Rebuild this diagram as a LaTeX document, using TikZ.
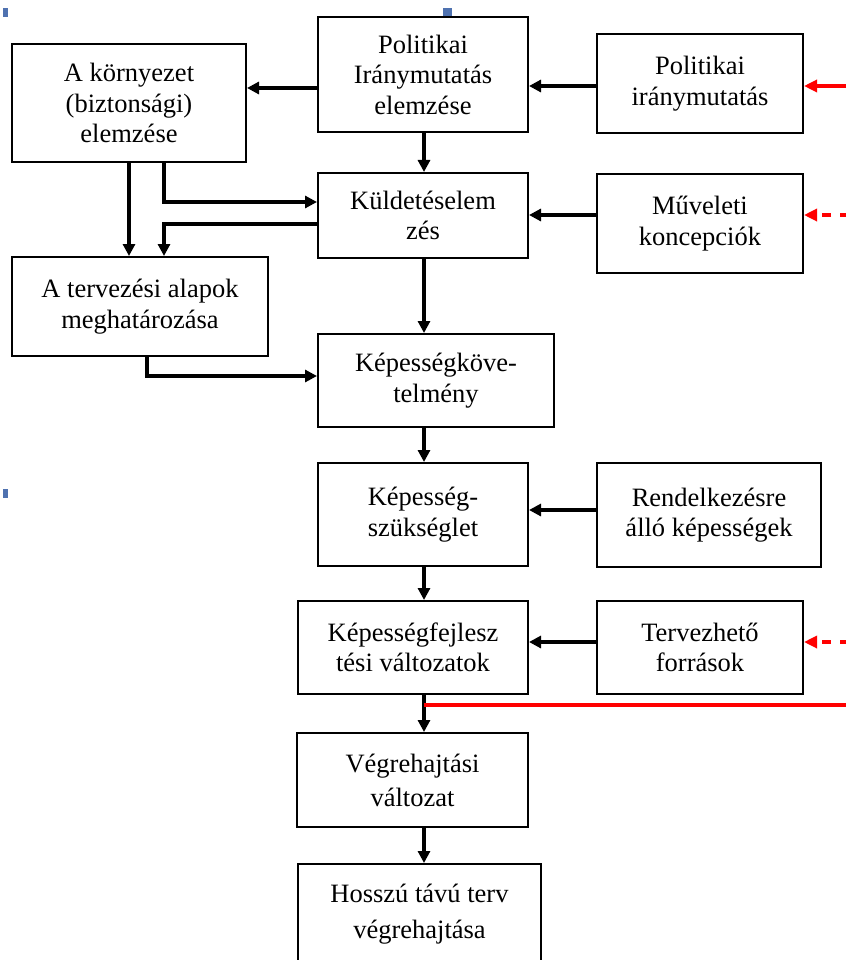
\documentclass[tikz,border=0pt]{standalone}
\usepackage{fontspec}
\setmainfont{Liberation Serif}
\usetikzlibrary{arrows.meta}
\definecolor{markblue}{HTML}{4F72B0}
\tikzset{
  box/.style={draw=black, line width=2pt, fill=white, align=center, inner sep=0pt,
    font=\fontsize{26.5}{30.5}\selectfont},
  arr/.style={line width=3.2pt, -{Triangle[length=12pt,width=12pt]}},
  redarr/.style={draw=red, line width=3.2pt, -{Triangle[length=13pt,width=12pt]}},
  reddash/.style={redarr, dash pattern=on 9pt off 9pt, dash phase=3pt},
  bluemark/.style={fill=markblue, draw=none}
}
\begin{document}
\begin{tikzpicture}[x=1pt, y=-1pt]
\useasboundingbox (0,0) rectangle (846,960);
\clip (0,0) rectangle (846,960);
\fill[white] (0,0) rectangle (846,960);
% small blue marks
\fill[bluemark] (3,8) rectangle (8,17);
\fill[bluemark] (443,8) rectangle (452,17);
\fill[bluemark] (3,489) rectangle (8,498);
% boxes
\node[box, minimum width=234pt, minimum height=118pt] (env) at (129,103) {A környezet\\(biztonsági)\\elemzése};
\node[box, minimum width=210pt, minimum height=115pt] (pola) at (423,74.5) {Politikai\\Iránymutatás\\elemzése};
\node[box, minimum width=206pt, minimum height=99pt] (polg) at (700,83.5) {Politikai\\iránymutatás};
\node[box, minimum width=210pt, minimum height=85pt] (kuld) at (423,215.5) {Küldetéselem\\zés};
\node[box, minimum width=206pt, minimum height=99pt] (muv) at (700,223.5) {Műveleti\\koncepciók};
\node[box, minimum width=256pt, minimum height=99pt] (terv) at (140,306.5) {A tervezési alapok\\meghatározása};
\node[box, minimum width=236pt, minimum height=93pt] (kovet) at (436,380.5) {Képességköve-\\telmény};
\node[box, minimum width=210pt, minimum height=103pt] (szuks) at (423,514.5) {Képesség-\\szükséglet};
\node[box, minimum width=224pt, minimum height=104pt] (rend) at (709,515) {Rendelkezésre\\álló képességek};
\node[box, minimum width=230pt, minimum height=93pt] (fejl) at (413,647.5) {Képességfejlesz\\tési változatok};
\node[box, minimum width=206pt, minimum height=93pt] (forr) at (700,647.5) {Tervezhető\\források};
\node[box, minimum width=231pt, minimum height=94pt, font=\fontsize{26.5}{34}\selectfont] (vegr) at (412.5,780) {Végrehajtási\\változat};
\node[box, minimum width=243pt, minimum height=100pt, font=\fontsize{26.5}{36}\selectfont] (hossz) at (419.5,914) {Hosszú távú terv\\végrehajtása};
% helper coordinates
\coordinate (h1) at (0,86);
\coordinate (h1b) at (0,88);
\coordinate (h2) at (0,202);
\coordinate (h3) at (0,224);
\coordinate (h4) at (0,215);
\coordinate (h5) at (0,376);
\coordinate (h6) at (0,510);
\coordinate (h7) at (0,642);
\coordinate (h8) at (0,705);
\coordinate (v0) at (129,0);
\coordinate (v1) at (164,0);
\coordinate (v2) at (147,0);
\coordinate (vc) at (424,0);
\coordinate (re1) at (846,86);
\coordinate (re2) at (846,215);
\coordinate (re3) at (846,642);
\coordinate (re4) at (846,705);
% black connectors
\draw[arr] (polg.west |- h1) -- (pola.east |- h1);
\draw[arr] (pola.west |- h1b) -- (env.east |- h1b);
\draw[arr] (vc |- pola.south) -- (vc |- kuld.north);
\draw[arr] (v0 |- env.south) -- (v0 |- terv.north);
\draw[arr] (v1 |- env.south) |- (kuld.west |- h2);
\draw[arr] (kuld.west |- h3) -| (v1 |- terv.north);
\draw[arr] (muv.west |- h4) -- (kuld.east |- h4);
\draw[arr] (vc |- kuld.south) -- (vc |- kovet.north);
\draw[arr] (v2 |- terv.south) |- (kovet.west |- h5);
\draw[arr] (vc |- kovet.south) -- (vc |- szuks.north);
\draw[arr] (rend.west |- h6) -- (szuks.east |- h6);
\draw[arr] (vc |- szuks.south) -- (vc |- fejl.north);
\draw[arr] (forr.west |- h7) -- (fejl.east |- h7);
\draw[arr] (vc |- fejl.south) -- (vc |- vegr.north);
\draw[arr] (vc |- vegr.south) -- (vc |- hossz.north);
% red connectors
\draw[redarr] (re1) -- (polg.east |- re1);
\draw[reddash] (re2) -- (muv.east |- re2);
\draw[reddash] (re3) -- (forr.east |- re3);
\draw[red, line width=3.5pt] (vc |- h8) -- (re4);
\end{tikzpicture}
\end{document}
